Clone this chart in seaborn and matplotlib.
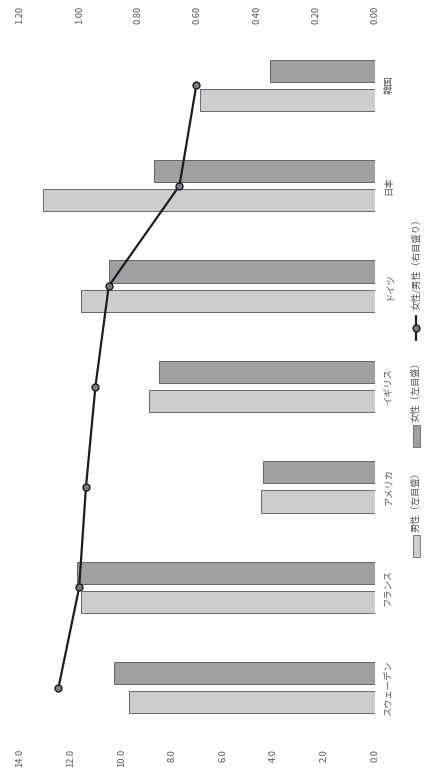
import numpy as np
import pandas as pd
import matplotlib
matplotlib.use("Agg")
import matplotlib.pyplot as plt
from matplotlib.patches import Rectangle
from matplotlib.lines import Line2D
import seaborn as sns

countries = ["スウェーデン", "フランス", "アメリカ", "イギリス", "ドイツ", "日本", "韓国"]
male = [9.7, 11.6, 4.5, 8.9, 11.6, 13.1, 6.9]
female = [10.3, 11.75, 4.4, 8.5, 10.5, 8.7, 4.15]
ratio = [1.07, 1.00, 0.977, 0.945, 0.90, 0.661, 0.604]
left_ticks = [0, 2, 4, 6, 8, 10, 12, 14]
right_ticks = [0.0, 0.2, 0.4, 0.6, 0.8, 1.0, 1.2]
series_names = ["男性（左目盛）", "女性（左目盛）", "女性/男性（右目盛り）"]

LIGHT = "#cdcdcd"
DARK = "#a0a0a0"
LINEC = "#1c1c28"
TXT = "#555555"
FS = 6.7

sns.set_theme(style="white")
plt.rcParams["font.family"] = ["Noto Sans CJK JP", "DejaVu Sans"]

df = pd.DataFrame({
    "country": countries * 2,
    "value": male + female,
    "sex": [series_names[0]] * len(countries) + [series_names[1]] * len(countries),
})

fig = plt.figure(figsize=(4.24, 7.78), dpi=100)
ax = fig.add_axes([20 / 424, 40 / 778, (375 - 20) / 424, (740.5 - 37.5) / 778])

sns.barplot(data=df, y="country", x="value", hue="sex", orient="h",
            order=countries, hue_order=series_names[:2],
            palette=[LIGHT, DARK], width=0.58, gap=0.24,
            edgecolor="#555555", linewidth=0.6, legend=False, ax=ax)
ax.set_ylim(-0.5, len(countries) - 0.5)
ax.set_xlim(14, 0)
ax.set_xticks(left_ticks)
ax.set_xticklabels([f"{v:.1f}" for v in left_ticks], rotation=90, fontsize=FS, color=TXT)
ax.yaxis.tick_right()
ax.set_yticks(range(len(countries)))
ax.set_yticklabels(countries, rotation=90, fontsize=FS, color=TXT, va="center")
ax.tick_params(axis="x", length=0, pad=8)
ax.tick_params(axis="y", length=0, pad=7)
ax.set_xlabel("")
ax.set_ylabel("")
for s in ax.spines.values():
    s.set_visible(False)

ax2 = ax.twiny()
sns.lineplot(x=ratio, y=np.arange(len(countries)), orient="y", sort=False, ax=ax2,
             color=LINEC, linewidth=1.6, marker="o", markersize=5,
             markerfacecolor="#7a7a7a", markeredgecolor=LINEC, markeredgewidth=1.0)
ax2.set_xlim(1.2, 0)
ax2.set_ylim(-0.5, len(countries) - 0.5)
ax2.set_xticks(right_ticks)
ax2.set_xticklabels([f"{v:.2f}" for v in right_ticks], rotation=90, fontsize=FS, color=TXT)
ax2.tick_params(axis="x", length=0, pad=8)
ax2.set_xlabel("")
ax2.set_ylabel("")
for s in ax2.spines.values():
    s.set_visible(False)

# manual rotated legend (figure coords)
W, H = 424, 778
def fy(py):
    return 1 - py / H

lx = 416 / W
# male patch
fig.add_artist(Rectangle((412.5 / W, fy(557)), 7 / W, 22 / H, transform=fig.transFigure,
                         facecolor=LIGHT, edgecolor="#555555", linewidth=0.5))
fig.text(lx, fy(500), series_names[0], rotation=90, ha="center", va="center",
         fontsize=FS, color=TXT)
# female patch
fig.add_artist(Rectangle((412.5 / W, fy(447)), 7 / W, 22 / H, transform=fig.transFigure,
                         facecolor=DARK, edgecolor="#555555", linewidth=0.5))
fig.text(lx, fy(390), series_names[1], rotation=90, ha="center", va="center",
         fontsize=FS, color=TXT)
# line handle
fig.add_artist(Line2D([lx, lx], [fy(340), fy(316)], transform=fig.transFigure,
                      color=LINEC, linewidth=1.6))
fig.add_artist(Line2D([lx], [fy(328)], transform=fig.transFigure, marker="o",
                      markersize=5, markerfacecolor="#7a7a7a", markeredgecolor=LINEC,
                      linestyle="none"))
fig.text(lx, fy(262), series_names[2], rotation=90, ha="center", va="center",
         fontsize=FS, color=TXT)

fig.savefig("out.png", dpi=100, facecolor="white")
